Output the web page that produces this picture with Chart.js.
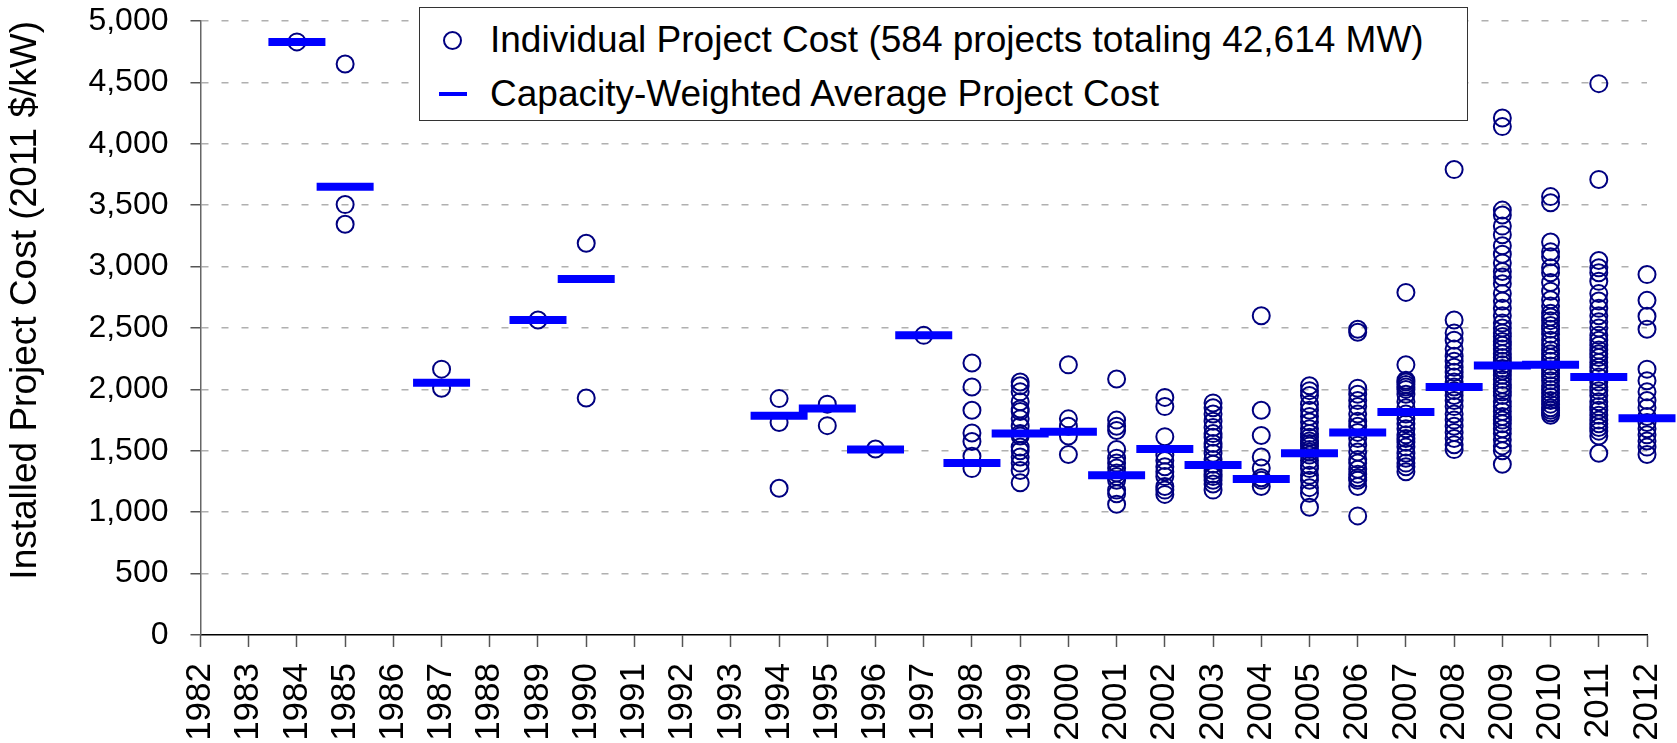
<!DOCTYPE html>
<html>
<head>
<meta charset="utf-8">
<script src="https://cdn.jsdelivr.net/npm/chart.js@4/dist/chart.umd.min.js"></script>
<style>
  body { margin: 0; background: #fff; }
  #wrap { position: relative; width: 1677px; height: 743px; }
  #legendBox {
    position: absolute; left: 419px; top: 7px; width: 1047px; height: 112px;
    border: 1.5px solid #333; background: #fff;
    font-family: 'Liberation Sans', Arial, sans-serif; font-size: 37px; color: #000;
  }
  .row { position: absolute; left: 0; height: 44px; line-height: 44px; white-space: nowrap; }
  .row span.txt { position: absolute; left: 70px; }
  .dot { position: absolute; left: 23px; top: 13px; width: 15px; height: 15px; border: 2px solid #000080; border-radius: 50%; }
  .dash { position: absolute; left: 19px; top: 20px; width: 28px; height: 4px; background: #0000ff; }
</style>
</head>
<body>
<div id="wrap">
  <canvas id="costChart"></canvas>
  <div id="legendBox">
    <div class="row" style="top:10px"><span class="dot"></span><span class="txt">Individual Project Cost (584 projects totaling 42,614 MW)</span></div>
    <div class="row" style="top:64px"><span class="dash"></span><span class="txt">Capacity-Weighted Average Project Cost</span></div>
  </div>
</div>
<script>
// x axis categories
var years = [];
for (let y = 1982; y <= 2012; y++) {
    years.push(String(y));
}

// years that have projects
var projectYears = ['1984', '1985', '1987', '1989', '1990', '1994', '1995', '1996', '1997', '1998',
    '1999', '2000', '2001', '2002', '2003', '2004', '2005', '2006', '2007', '2008', '2009', '2010',
    '2011', '2012'];

// capacity-weighted average per year ($/kW)
var avgCosts = [4830, 3650, 2055, 2565, 2900, 1785, 1845, 1510, 2440, 1400,
    1640, 1655, 1300, 1515, 1385, 1270, 1480, 1650, 1815, 2020, 2195, 2200,
    2100, 1765];

// individual project costs per year ($/kW)
var projectCosts = [
    [4830],
    [4650, 3505, 3345],
    [2165, 2010],
    [2565],
    [3190, 1930],
    [1925, 1730, 1195],
    [1880, 1705],
    [1515],
    [2440],
    [2215, 2020, 1830, 1645, 1575, 1455, 1355],
    [2060, 2030, 1980, 1900, 1840, 1820, 1760, 1700, 1640, 1620, 1530, 1500, 1450, 1400, 1340, 1240],
    [2200, 1760, 1700, 1620, 1470],
    [2085, 1750, 1700, 1665, 1510, 1440, 1400, 1360, 1320, 1290, 1260, 1180, 1150, 1065],
    [1935, 1860, 1615, 1465, 1420, 1370, 1330, 1290, 1210, 1180, 1145],
    [1890, 1850, 1800, 1740, 1690, 1640, 1610, 1560, 1530, 1480, 1430, 1390, 1340, 1310, 1290, 1260, 1230, 1180],
    [2600, 1830, 1625, 1450, 1360, 1280, 1260, 1210],
    [2030, 1990, 1950, 1880, 1830, 1780, 1735, 1680, 1640, 1610, 1580, 1560, 1540, 1510, 1490, 1465, 1420, 1380, 1355, 1300, 1260, 1200, 1155, 1040],
    [2490, 2465, 2010, 1960, 1910, 1860, 1800, 1740, 1700, 1650, 1600, 1545, 1490, 1430, 1400, 1350, 1310, 1280, 1260, 1210, 970],
    [2790, 2200, 2075, 2060, 2040, 2020, 2000, 1960, 1900, 1850, 1800, 1760, 1720, 1680, 1630, 1600, 1570, 1530, 1480, 1440, 1400, 1370, 1330],
    [3790, 2565, 2460, 2400, 2330, 2270, 2230, 2180, 2140, 2100, 2060, 2020, 1990, 1950, 1910, 1860, 1800, 1750, 1700, 1650, 1600, 1550, 1510],
    [4210, 4140, 3460, 3420, 3330, 3260, 3170, 3100, 3030, 2960, 2915, 2860, 2780, 2720, 2660, 2600, 2540, 2500, 2460, 2430, 2390, 2360, 2330, 2290, 2260, 2230, 2200, 2170, 2150, 2115, 2080, 2040, 2010, 1980, 1950, 1900, 1860, 1820, 1780, 1750, 1720, 1680, 1640, 1590, 1540, 1500, 1390],
    [3570, 3520, 3200, 3120, 3080, 2990, 2950, 2870, 2800, 2730, 2680, 2620, 2590, 2560, 2520, 2490, 2450, 2400, 2360, 2320, 2290, 2260, 2230, 2190, 2160, 2130, 2100, 2070, 2030, 2000, 1970, 1940, 1910, 1880, 1850, 1830, 1810, 1790],
    [4490, 3710, 3050, 2990, 2950, 2880, 2780, 2720, 2660, 2600, 2550, 2500, 2440, 2400, 2360, 2320, 2290, 2260, 2220, 2180, 2150, 2100, 2060, 2020, 1990, 1950, 1900, 1860, 1830, 1790, 1750, 1720, 1690, 1660, 1620, 1480],
    [2935, 2725, 2595, 2490, 2165, 2070, 1980, 1910, 1850, 1780, 1730, 1680, 1630, 1580, 1530, 1470]
];

var fontFamily = "'Liberation Sans', Arial, sans-serif";

// flatten into points
var projectPoints = [];
for (let i = 0; i < projectYears.length; i++) {
    for (let j = 0; j < projectCosts[i].length; j++) {
        projectPoints.push({ x: projectYears[i], y: projectCosts[i][j] });
    }
}
var avgPoints = projectYears.map(function (yr, i) {
    return { x: yr, y: avgCosts[i] };
});

new Chart(document.getElementById('costChart'), {
    type: 'scatter',
    data: {
        datasets: [{
            label: 'Capacity-Weighted Average Project Cost',
            data: avgPoints,
            pointStyle: 'line',
            pointRadius: 28.5,
            pointHoverRadius: 28.5,
            borderColor: '#0000ff',
            pointBorderWidth: 8,
            borderWidth: 8,
            order: 0,
            clip: false
        }, {
            label: 'Individual Project Cost (584 projects totaling 42,614 MW)',
            data: projectPoints,
            pointStyle: 'circle',
            pointRadius: 8.5,
            pointHoverRadius: 8.5,
            borderColor: '#000080',
            backgroundColor: 'rgba(0,0,0,0)',
            pointBorderWidth: 2,
            borderWidth: 2,
            order: 1,
            clip: false
        }]
    },
    options: {
        responsive: true,
        maintainAspectRatio: false,
        animation: false,
        events: [],
        layout: {
            autoPadding: false,
            padding: { left: 4, right: 30, top: 0, bottom: 0 }
        },
        plugins: {
            legend: { display: false },
            tooltip: { enabled: false }
        },
        scales: {
            x: {
                type: 'category',
                labels: years,
                offset: false,
                afterFit: function (scale) {
                    // fixed height for the rotated year labels, no side padding
                    scale.height = 108;
                    scale.paddingLeft = 0;
                    scale.paddingRight = 0;
                },
                grid: {
                    drawOnChartArea: false,
                    drawTicks: true,
                    tickLength: 12,
                    tickColor: '#555',
                    tickWidth: 1.5
                },
                border: { display: true, color: '#000', width: 1.5 },
                ticks: {
                    autoSkip: false,
                    minRotation: 90,
                    maxRotation: 90,
                    padding: 16,
                    color: '#000',
                    font: { family: fontFamily, size: 35 }
                }
            },
            y: {
                min: 0,
                max: 5000,
                afterFit: function (scale) {
                    scale.paddingTop = 21;
                    scale.paddingBottom = 0;
                },
                grid: {
                    color: function (ctx) {
                        return ctx.tick && ctx.tick.value === 0 ? 'rgba(0,0,0,0)' : '#b0b0b0';
                    },
                    lineWidth: 1.5,
                    tickLength: 10,
                    tickColor: '#555',
                    tickWidth: 1.5
                },
                border: { display: true, color: '#666', width: 1.5, dash: [7, 13] },
                ticks: {
                    stepSize: 500,
                    padding: 22,
                    color: '#000',
                    font: { family: fontFamily, size: 32 },
                    callback: function (value) {
                        return value.toLocaleString('en-US');
                    }
                },
                title: {
                    display: true,
                    text: 'Installed Project Cost (2011 $/kW)',
                    align: 'end',
                    color: '#000',
                    font: { family: fontFamily, size: 37 },
                    padding: { top: 0, bottom: 18 }
                }
            }
        }
    }
});
</script>
</body>
</html>
